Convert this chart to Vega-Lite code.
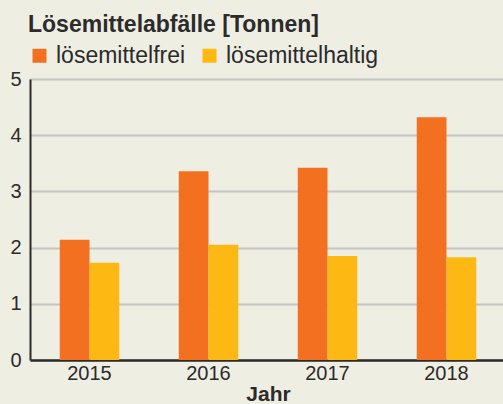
{
  "$schema": "https://vega.github.io/schema/vega-lite/v6.json",
  "width": 476,
  "height": 281,
  "autosize": "none",
  "padding": {"left": 30, "top": 79, "right": 0, "bottom": 44},
  "background": "#efeee3",
  "config": {
    "view": {"stroke": null},
    "font": "Liberation Sans",
    "axis": {"labelFont": "Liberation Sans", "titleFont": "Liberation Sans"}
  },
  "data": {
    "values": [
      {"Jahr": "2015", "Art": "lösemittelfrei", "Wert": 2.14},
      {"Jahr": "2015", "Art": "lösemittelhaltig", "Wert": 1.73},
      {"Jahr": "2016", "Art": "lösemittelfrei", "Wert": 3.36},
      {"Jahr": "2016", "Art": "lösemittelhaltig", "Wert": 2.05},
      {"Jahr": "2017", "Art": "lösemittelfrei", "Wert": 3.42},
      {"Jahr": "2017", "Art": "lösemittelhaltig", "Wert": 1.85},
      {"Jahr": "2018", "Art": "lösemittelfrei", "Wert": 4.32},
      {"Jahr": "2018", "Art": "lösemittelhaltig", "Wert": 1.83}
    ]
  },
  "mark": {"type": "bar"},
  "encoding": {
    "x": {
      "field": "Jahr",
      "type": "nominal",
      "scale": {"paddingInner": 0.5, "paddingOuter": 0.25},
      "axis": {
        "labelAngle": 0,
        "labelFontSize": 20,
        "labelColor": "#2b2b2b",
        "labelPadding": 3,
        "ticks": false,
        "domainColor": "#2b2b2b",
        "domainWidth": 2.5,
        "title": "Jahr",
        "titleFontSize": 21,
        "titleFontWeight": "bold",
        "titleColor": "#2b2b2b",
        "titlePadding": 0
      }
    },
    "xOffset": {"field": "Art", "type": "nominal", "scale": {"paddingInner": 0, "paddingOuter": 0}},
    "y": {
      "field": "Wert",
      "type": "quantitative",
      "scale": {"domain": [0, 5], "nice": false},
      "axis": {
        "values": [0, 1, 2, 3, 4, 5],
        "title": null,
        "labelFontSize": 20,
        "labelColor": "#2b2b2b",
        "labelPadding": 9,
        "ticks": false,
        "domainColor": "#2b2b2b",
        "domainWidth": 2,
        "gridColor": "#c4c4c4",
        "gridWidth": 2,
        "gridOpacity": 1
      }
    },
    "color": {
      "field": "Art",
      "type": "nominal",
      "scale": {"domain": ["lösemittelfrei", "lösemittelhaltig"], "range": ["#f47021", "#fdb813"]},
      "legend": {
        "orient": "none",
        "legendX": -2,
        "legendY": -65,
        "padding": 0,
        "direction": "horizontal",
        "title": "Lösemittelabfälle [Tonnen]",
        "titleFontSize": 23,
        "titleFontWeight": "bold",
        "titleColor": "#2b2b2b",
        "titlePadding": 7,
        "titleLimit": 500,
        "symbolType": "square",
        "symbolSize": 196,
        "symbolStrokeWidth": 0,
        "symbolOpacity": 1,
        "labelFontSize": 23,
        "labelColor": "#2b2b2b",
        "labelOffset": 5,
        "columnPadding": 12,
        "labelLimit": 300
      }
    }
  }
}
